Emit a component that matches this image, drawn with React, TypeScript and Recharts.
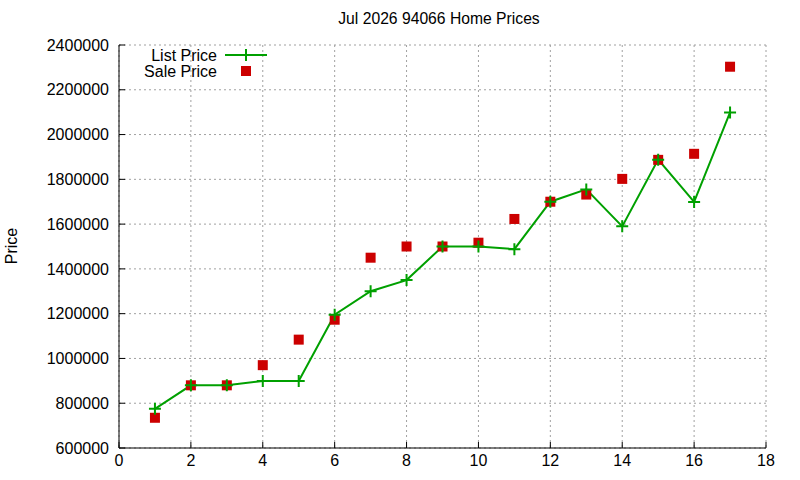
import { ComposedChart, Line, Scatter, XAxis, YAxis, CartesianGrid, Legend } from 'recharts';

const months = [1, 2, 3, 4, 5, 6, 7, 8, 9, 10, 11, 12, 13, 14, 15, 16, 17];
const listPrice = [
  775000, 880000, 880000, 899000, 899000, 1195000, 1300000, 1350000, 1500000,
  1500000, 1488000, 1700000, 1755000, 1590000, 1888000, 1699000, 2099000,
];
const salePrice = [
  735000, 880000, 880000, 970000, 1084000, 1173000, 1450000, 1500000, 1500000,
  1517000, 1623000, 1700000, 1732000, 1802000, 1887000, 1914000, 2303000,
];
const xTicks = [0, 2, 4, 6, 8, 10, 12, 14, 16, 18];
const yTicks = [600000, 800000, 1000000, 1200000, 1400000, 1600000, 1800000, 2000000, 2200000, 2400000];

const data = months.map((m, i) => ({ x: m, list: listPrice[i], sale: salePrice[i] }));

const GREEN = '#00a000';
const RED = '#cc0000';
const FONT = '"Liberation Sans", Arial, sans-serif';

const PlusDot = (props: any) => {
  const { cx, cy } = props;
  if (cx == null || cy == null) return null;
  return <path d={`M${cx - 6},${cy}h12M${cx},${cy - 6}v12`} stroke={GREEN} strokeWidth={2} fill="none" />;
};

const SquareDot = (props: any) => {
  const { cx, cy } = props;
  if (cx == null || cy == null) return null;
  return <rect x={cx - 5} y={cy - 5} width={10} height={10} fill={RED} />;
};

const LegendBox = () => (
  <svg width={280} height={36} style={{ display: 'block' }}>
    <text x={217} y={16} textAnchor="end" fontSize={16} fontFamily={FONT} fill="#000">List Price</text>
    <line x1={225} x2={267} y1={10} y2={10} stroke={GREEN} strokeWidth={2} />
    <path d="M240,10h12M246,4v12" stroke={GREEN} strokeWidth={2} />
    <text x={217} y={32} textAnchor="end" fontSize={16} fontFamily={FONT} fill="#000">Sale Price</text>
    <rect x={241} y={21} width={10} height={10} fill={RED} />
  </svg>
);

const tickStyle = { fontSize: 16, fill: '#000', fontFamily: FONT };

export default function App() {
  return (
    <div style={{ position: 'absolute', left: 0, top: 0, width: 800, height: 480, background: '#fff', fontFamily: FONT }}>
      <div style={{ position: 'absolute', left: 0, top: 10, width: 878, textAlign: 'center', fontSize: 15.7, color: '#000' }}>
        Jul 2026 94066 Home Prices
      </div>
      <div
        style={{
          position: 'absolute', left: 12, top: 246, fontSize: 16, color: '#000',
          transform: 'translate(-50%, -50%) rotate(-90deg)', whiteSpace: 'nowrap',
        }}
      >
        Price
      </div>
      <ComposedChart width={800} height={480} data={data} margin={{ top: 45, right: 34, bottom: 2, left: 9 }}>
        <CartesianGrid stroke="#a0a0a0" strokeDasharray="2 3" />
        <XAxis
          dataKey="x" type="number" domain={[0, 18]} ticks={xTicks} height={30}
          tick={tickStyle} tickSize={-6} tickMargin={13} stroke="#000" interval={0}
        />
        <XAxis
          xAxisId="top" orientation="top" dataKey="x" type="number" domain={[0, 18]} ticks={xTicks}
          height={0} tick={false} tickSize={-6} stroke="#000" interval={0}
        />
        <YAxis
          type="number" domain={[600000, 2400000]} ticks={yTicks} width={110}
          tick={tickStyle} tickSize={-6} tickMargin={16} stroke="#000" interval={0}
        />
        <YAxis
          yAxisId="right" orientation="right" type="number" domain={[600000, 2400000]} ticks={yTicks}
          width={0} tick={false} tickSize={-6} stroke="#000" interval={0}
        />
        <Legend
          layout="horizontal" verticalAlign="middle" align="center" content={() => <LegendBox />}
          wrapperStyle={{ position: 'absolute', left: 0, top: 45, width: 280, height: 36 }}
        />
        <Line
          dataKey="list" name="List Price" stroke={GREEN} strokeWidth={2}
          dot={<PlusDot />} activeDot={false} isAnimationActive={false}
        />
        <Scatter dataKey="sale" name="Sale Price" shape={<SquareDot />} isAnimationActive={false} />
      </ComposedChart>
    </div>
  );
}
